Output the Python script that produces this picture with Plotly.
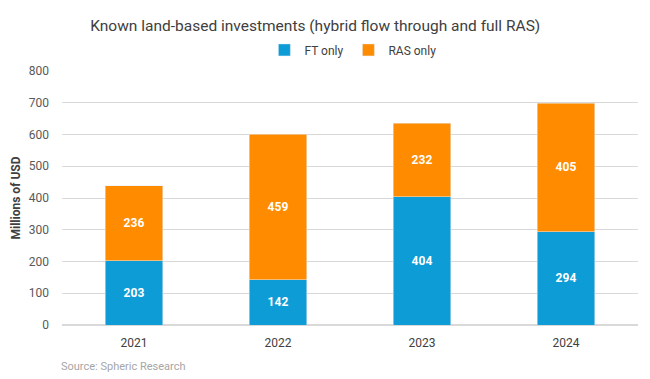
import plotly.graph_objects as go

years = ["2021", "2022", "2023", "2024"]
ft_only = [203, 142, 404, 294]
ras_only = [236, 459, 232, 405]
y_ticks = [0, 100, 200, 300, 400, 500, 600, 700, 800]

FONT = "Roboto, Open Sans, sans-serif"
fig = go.Figure()
fig.add_trace(go.Bar(x=years, y=ft_only, name="FT only", marker_color="#0E9CD6",
                     text=ft_only, textposition="inside", insidetextanchor="middle",
                     textfont=dict(color="white", size=12, family=FONT, weight="bold")))
fig.add_trace(go.Bar(x=years, y=ras_only, name="RAS only", marker_color="#FF8C00",
                     text=ras_only, textposition="inside", insidetextanchor="middle",
                     textfont=dict(color="white", size=12, family=FONT, weight="bold")))

fig.update_layout(
    barmode="stack", bargap=0.6,
    width=650, height=379,
    margin=dict(l=62, r=12, t=71, b=54, autoexpand=False),
    paper_bgcolor="white", plot_bgcolor="white",
    font=dict(family=FONT, color="#404040", size=12),
    title=dict(text="Known land-based investments (hybrid flow through and full RAS)",
               x=0.485, xanchor="center", y=0.932, yanchor="middle",
               font=dict(size=15.5, color="#404040", family=FONT)),
    legend=dict(orientation="h", x=0.505, xanchor="center", y=1.083, yanchor="middle",
                font=dict(size=12, color="#404040"), itemwidth=30, traceorder="normal"),
    showlegend=True,
    uniformtext=dict(mode="show", minsize=10),
)
fig.update_yaxes(range=[0, 800], tickvals=y_ticks, showgrid=True, gridcolor="#D9D9D9",
                 zeroline=True, zerolinecolor="#D9D9D9", ticks="", ticklabelstandoff=12,
                 automargin=False,
                 title=dict(text="Millions of USD", font=dict(size=12, color="#404040", weight="bold"), standoff=5),
                 tickfont=dict(size=12, color="#595959"))
fig.update_xaxes(showline=False, ticks="", automargin=False, ticklabelstandoff=9,
                 tickfont=dict(size=12, color="#404040"))
fig.add_annotation(text="Source: Spheric Research", xref="paper", yref="paper",
                   x=-0.005, y=-0.165, xanchor="left", yanchor="middle", showarrow=False,
                   font=dict(size=11, color="#A6A6A6", family=FONT))
fig.write_html("out.html", config={"displayModeBar": False},
               post_script="document.body.style.margin='0';document.body.style.overflow='hidden';")
